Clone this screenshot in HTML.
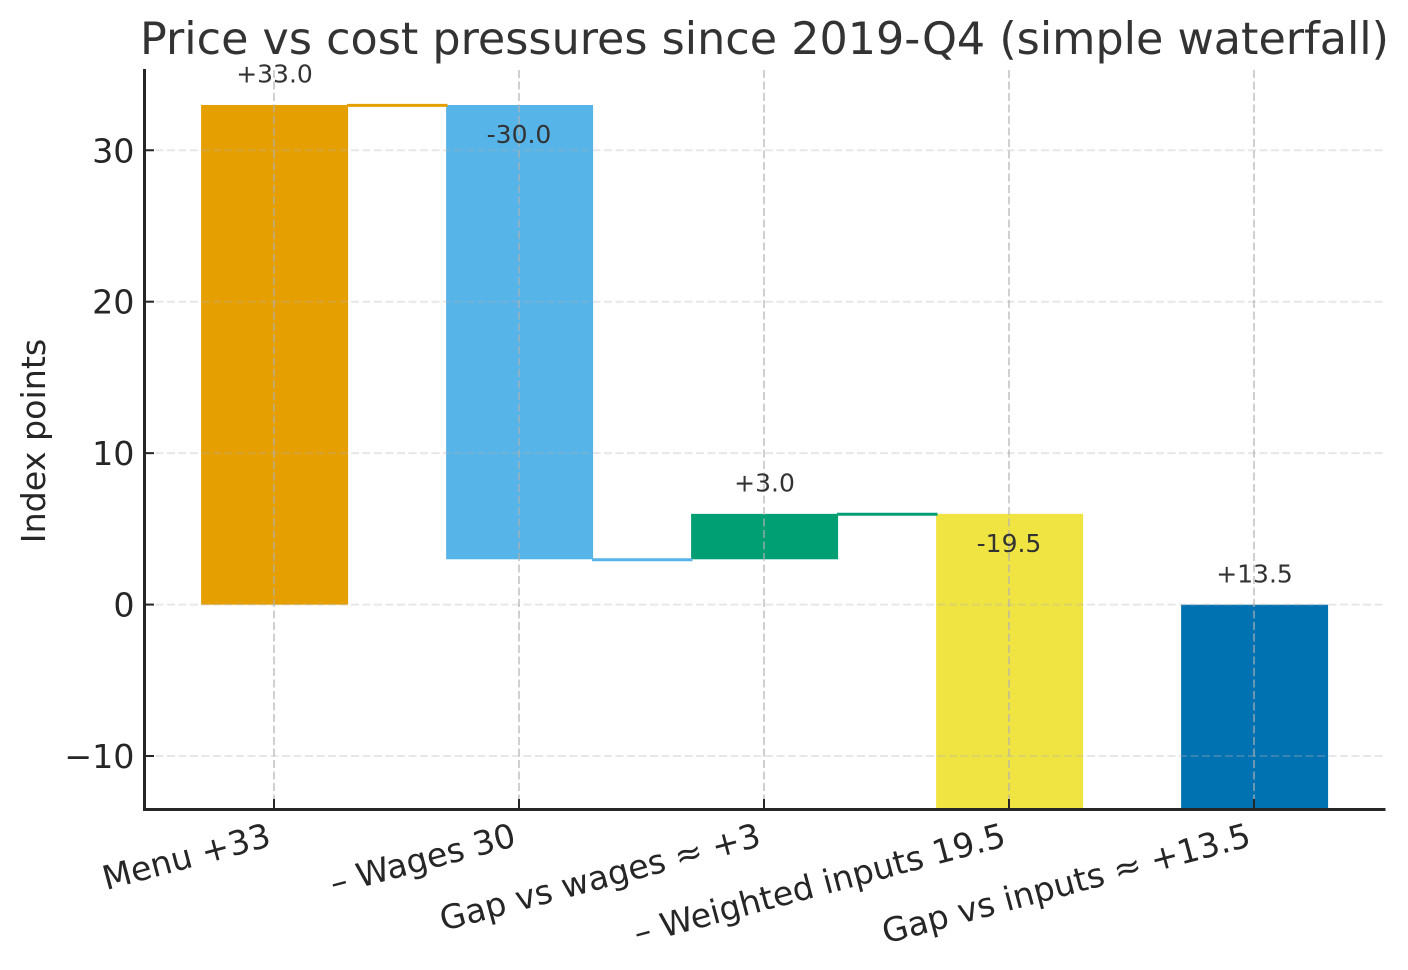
<!DOCTYPE html>
<html lang="en">
<head>
<meta charset="utf-8">
<title>Price vs cost pressures since 2019-Q4 (simple waterfall)</title>
<style>
html,body{margin:0;padding:0;background:#fff;}
svg{display:block;font-family:"DejaVu Sans","Liberation Sans",sans-serif;}
</style>
</head>
<body>
<svg id="chart" width="1408" height="970" viewBox="0 0 1408 970" xmlns="http://www.w3.org/2000/svg">
  <defs><clipPath id="plot-clip"><rect x="144" y="70" width="1241" height="739.5"/></clipPath></defs>
  <text x="764.5" y="54" text-anchor="middle" font-size="44.45" fill="#333333">Price vs cost pressures since 2019-Q4 (simple waterfall)</text>
  <text transform="translate(45,441) rotate(-90)" text-anchor="middle" font-size="33.3" fill="#262626">Index points</text>
  <g id="bars" clip-path="url(#plot-clip)"></g>
  <g id="connectors" clip-path="url(#plot-clip)"></g>
  <g id="grid" clip-path="url(#plot-clip)"></g>
  <g id="values"></g>
  <g id="ticks"></g>
  <line x1="144.5" y1="69" x2="144.5" y2="811" stroke="#262626" stroke-width="3"/>
  <line x1="143" y1="809.5" x2="1385.5" y2="809.5" stroke="#262626" stroke-width="3"/>
  <g id="y-labels"></g>
  <g id="x-labels"></g>
</svg>
<script>
const categories = ["Menu +33", "– Wages 30", "Gap vs wages ≈ +3", "– Weighted inputs 19.5", "Gap vs inputs ≈ +13.5"];
const deltas = [33, -30, 3, -19.5, 13.5];
const valueLabels = ["+33.0", "-30.0", "+3.0", "-19.5", "+13.5"];
const yTicks = [-10, 0, 10, 20, 30];
const yTickLabels = ["−10", "0", "10", "20", "30"];
const barColors = ["#E69F00", "#56B4E9", "#009E73", "#F0E442", "#0072B2"];

const NS = "http://www.w3.org/2000/svg";
const yMin = -13.5, yMax = 35.3;
const plotTop = 70, plotBottom = 809;
const xFirst = 274, xStep = 245;
const barWidth = 0.6, labelOffset = 2;

function xPos(i) { return xFirst + i * xStep; }
function yPos(v) { return plotBottom - (v - yMin) / (yMax - yMin) * (plotBottom - plotTop); }
function make(tag, parentId, attrs, text) {
  const el = document.createElementNS(NS, tag);
  for (const k in attrs) el.setAttribute(k, attrs[k]);
  if (text !== undefined) el.textContent = text;
  document.getElementById(parentId).appendChild(el);
  return el;
}

let running = 0;
deltas.forEach(function (d, i) {
  const start = running, end = running + d;
  running = end;
  const hi = Math.max(start, end), lo = Math.min(start, end);
  const half = barWidth / 2 * xStep;

  const bar = make("rect", "bars", { x: xPos(i) - half + 0.6, y: yPos(hi) + 0.15, width: half * 2, height: yPos(lo) - yPos(hi), fill: barColors[i] });
  
  

  if (i < deltas.length - 1) {
    const conn = make("line", "connectors", { x1: xPos(i) + half - 0.5, x2: xPos(i + 1) - half + 2, y1: yPos(end) + 0.6, y2: yPos(end) + 0.6, stroke: barColors[i], "stroke-width": 3 });
    
    
  }

  const labelValue = d >= 0 ? hi + labelOffset : hi - labelOffset;
  const val = make("text", "values", { x: xPos(i) + (d >= 0 ? 0.5 : 0), y: yPos(labelValue) + 8, "text-anchor": "middle", "font-size": 25, fill: "#333333" }, valueLabels[i]);
  
  

  const vg = make("line", "grid", { x1: xPos(i), x2: xPos(i), y1: plotTop, y2: plotBottom, stroke: "#b0b0b0", "stroke-opacity": 0.6, "stroke-width": 2, "stroke-dasharray": "8 3.5" });
  
  

  const xt = make("line", "ticks", { x1: xPos(i), x2: xPos(i), y1: plotBottom - 10, y2: plotBottom, stroke: "#262626", "stroke-width": 2 });
  
  

  const ax = xPos(i) - 1.5, ay = 845.5;
  const xl = make("text", "x-labels", { transform: "translate(" + ax + "," + ay + ") rotate(-15)", "text-anchor": "end", "font-size": 33.3, fill: "#262626" }, categories[i]);
  
  
});

yTicks.forEach(function (v, i) {
  const g = make("line", "grid", { x1: 144, x2: 1385, y1: yPos(v), y2: yPos(v), stroke: "#b0b0b0", "stroke-opacity": 0.3, "stroke-width": 2, "stroke-dasharray": "8 3.5" });
  
  

  const t = make("line", "ticks", { x1: 144, x2: 154, y1: yPos(v), y2: yPos(v), stroke: "#262626", "stroke-width": 2 });
  
  

  const l = make("text", "y-labels", { x: 134.5, y: yPos(v) + 12, "text-anchor": "end", "font-size": 33.3, fill: "#262626" }, yTickLabels[i]);
  
  
});
</script>
</body>
</html>
